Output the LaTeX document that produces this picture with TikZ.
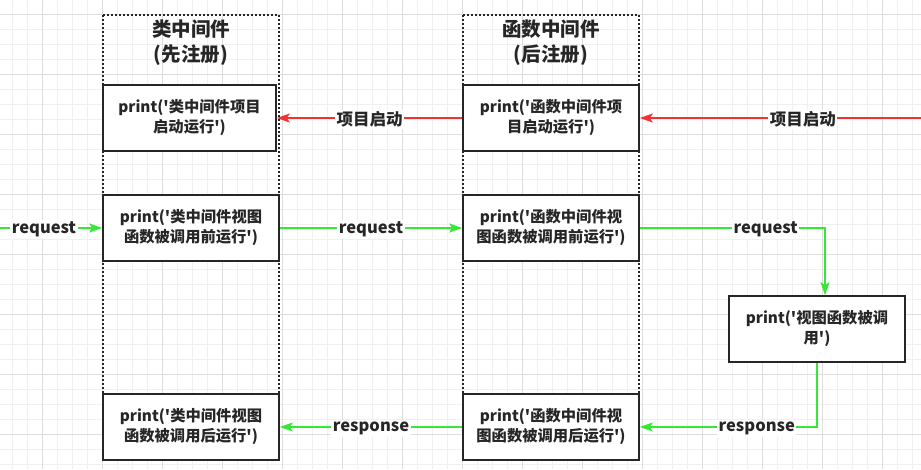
\documentclass[tikz,border=0pt]{standalone}
\usepackage{fontspec}
\newfontfamily\cjk{Noto Sans CJK SC}
\usetikzlibrary{arrows.meta}
\definecolor{flowred}{RGB}{240,52,52}
\definecolor{flowgreen}{RGB}{52,232,52}
\definecolor{gridminor}{RGB}{240,240,240}
\definecolor{gridmajor}{RGB}{222,222,222}
\newcommand{\sq}{\textquotesingle}
\begin{document}
\begin{tikzpicture}[x=1pt,y=-1pt,
    box/.style={draw=black!85, line width=1.6, fill=white, align=center,
        minimum width=176, minimum height=66, inner sep=0,
        font=\cjk\bfseries\fontsize{15.3}{20}\selectfont, text=black!85},
    title/.style={align=center, inner sep=0,
        font=\cjk\bfseries\fontsize{19.5}{25}\selectfont, text=black!85},
    lbl/.style={fill=white, inner sep=1.5, yshift=-1.5,
        font=\cjk\bfseries\fontsize{16.5}{18}\selectfont, text=black!85},
    group/.style={line width=1.8, dash pattern=on 1.8 off 2.2, black!85},
    redarrow/.style={draw=flowred, line width=1.8, -{Stealth[length=13,width=9,inset=3]}},
    greenarrow/.style={draw=flowgreen, line width=1.8, -{Stealth[length=13,width=9,inset=3]}}]
    \useasboundingbox (0,0) rectangle (921,469);
    % Grid
    \foreach \gx in {12,27,...,912} \draw[gridminor, line width=0.8] (\gx,0) -- (\gx,469);
    \foreach \gy in {14,29,...,464} \draw[gridminor, line width=0.8] (0,\gy) -- (921,\gy);
    \foreach \gx in {42,102,...,882} \draw[gridmajor, line width=0.8] (\gx,0) -- (\gx,469);
    \foreach \gy in {14,74,...,434} \draw[gridmajor, line width=0.8] (0,\gy) -- (921,\gy);
    % Groups
    \draw[group] (103,15) rectangle (279,460);
    \draw[group] (463,15) rectangle (639,460);
    \node[title] (clsTitle) at (191,43) {类中间件\\(先注册)};
    \node[title] (fnTitle) at (551,43) {函数中间件\\(后注册)};
    % Boxes
    \node[box, minimum width=173] (cls1) at (189.5,118) {print(\sq 类中间件项目\\启动运行\sq)};
    \node[box] (cls2) at (191,228) {print(\sq 类中间件视图\\函数被调用前运行\sq)};
    \node[box] (cls3) at (191,427) {print(\sq 类中间件视图\\函数被调用后运行\sq)};
    \node[box] (fn1) at (551,118) {print(\sq 函数中间件项\\目启动运行\sq)};
    \node[box] (fn2) at (551,228) {print(\sq 函数中间件视\\图函数被调用前运行\sq)};
    \node[box] (fn3) at (551,427) {print(\sq 函数中间件视\\图函数被调用后运行\sq)};
    \node[box] (view) at (817,329) {print(\sq 视图函数被调\\用\sq)};
    \coordinate (startR) at (921,118);
    \coordinate (startG) at (0,228);
    % Startup
    \draw[redarrow] (startR) -- node[lbl, pos=0.42] {项目启动} (fn1.east);
    \draw[redarrow] (fn1.west) -- node[lbl] {项目启动} (cls1.east);
    % Request / response
    \draw[greenarrow] (startG) -- node[lbl, pos=0.43] {request} (cls2.west);
    \draw[greenarrow] (cls2.east) -- node[lbl] {request} (fn2.west);
    \draw[greenarrow] (fn2.east) -| node[lbl, pos=0.34] {request} ([xshift=8]view.north);
    \draw[greenarrow] (view.south) |- node[lbl, pos=0.67] {response} (fn3.east);
    \draw[greenarrow] (fn3.west) -- node[lbl] {response} (cls3.east);
\end{tikzpicture}
\end{document}
